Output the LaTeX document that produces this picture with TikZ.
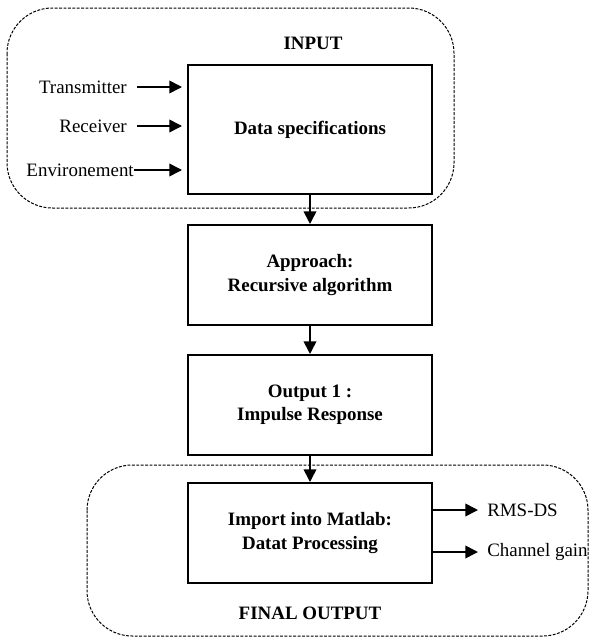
\documentclass[tikz,border=0pt]{standalone}
\usepackage{fontspec}
\setmainfont{Liberation Serif}
\usetikzlibrary{arrows.meta}
\tikzset{
  block/.style={draw, line width=1.5pt, minimum width=183pt, minimum height=75pt, align=center, font=\fontsize{14.2}{17.5}\selectfont\bfseries},
  group/.style={draw, dash pattern=on 2.2pt off 1.1pt, line width=0.75pt, rounded corners=34pt},
  arr/.style={-{Triangle[length=9.5pt,width=9.5pt]}, line width=1.2pt},
  lbl/.style={font=\fontsize{14.2}{17}\selectfont, inner sep=0pt},
  title/.style={font=\fontsize{14.2}{17}\selectfont\bfseries}
}
\begin{document}
\begin{tikzpicture}[x=0.75pt,y=-0.75pt]
    \useasboundingbox (0,0) rectangle (589,639);
    % dashed groups
    \draw[group] (7,8) rectangle (454,208);
    \draw[group] (87,465) rectangle (588,636);
    \node[title] (input) at (313,43) {INPUT};
    \node[title] (final) at (310,613) {FINAL OUTPUT};
    % main chain
    \node[block, minimum height=96.75pt] (spec) at (310,129.5) {Data specifications};
    \node[block] (appr) at (310,275) {Approach:\\Recursive algorithm};
    \node[block] (out1) at (310,405) {Output 1 :\\Impulse Response};
    \node[block] (proc) at (310,533) {Import into Matlab:\\Datat Processing};
    \draw[arr] (spec) -- (appr);
    \draw[arr] (appr) -- (out1);
    \draw[arr] (out1) -- (proc);
    % inputs
    \node[lbl, anchor=east] (tx) at (127,87) {Transmitter};
    \node[lbl, anchor=east] (rx) at (127,126) {Receiver};
    \node[lbl, anchor=east] (env) at (134,170) {Environement};
    \draw[arr, shorten <=7.5pt, shorten >=3.75pt] (tx.east) -- (tx.east -| spec.west);
    \draw[arr, shorten <=7.5pt, shorten >=3.75pt] (rx.east) -- (rx.east -| spec.west);
    \draw[arr, shorten >=3.75pt] (env.east) -- (env.east -| spec.west);
    % outputs
    \node[lbl, anchor=west] (rms) at (487,510) {RMS-DS};
    \node[lbl, anchor=west] (gain) at (487,552) {Channel gain};
    \draw[arr, shorten >=6.75pt] (proc.east |- rms) -- (rms.west);
    \draw[arr, shorten >=6.75pt] (proc.east |- gain) -- (gain.west);
\end{tikzpicture}
\end{document}
